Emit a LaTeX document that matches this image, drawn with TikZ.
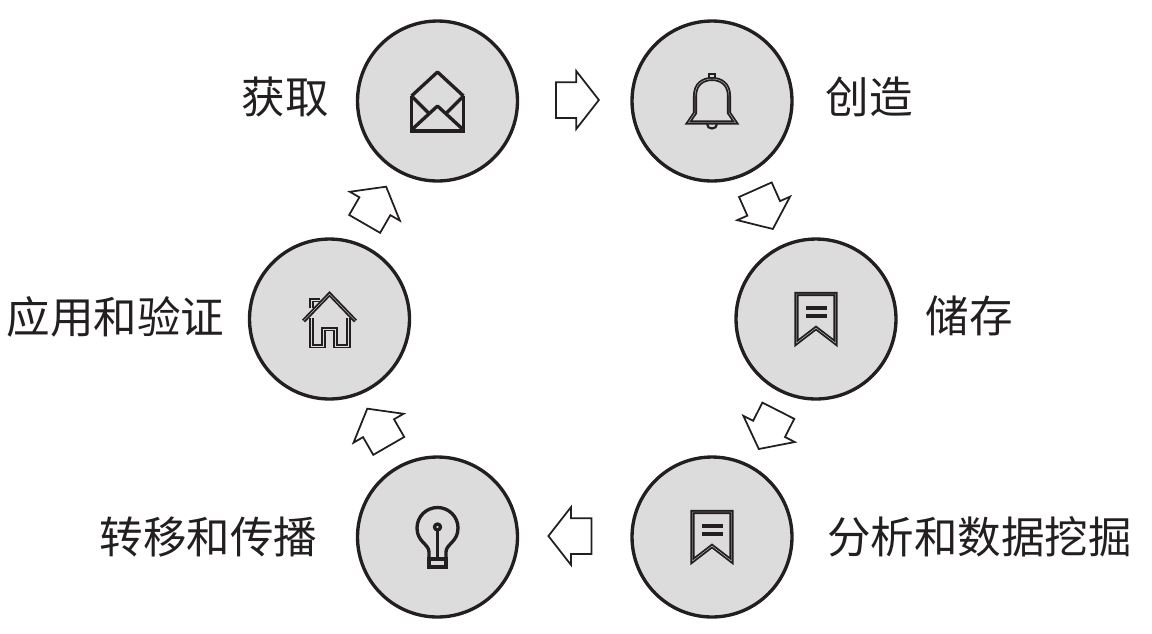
\documentclass[tikz,border=0pt]{standalone}
\usepackage{fontspec}
\setmainfont{Noto Sans CJK SC}
\usetikzlibrary{positioning,shapes.arrows}

\definecolor{cInk}{HTML}{231F20}
\definecolor{cDisc}{HTML}{DCDCDD}

\tikzset{
	stagedisc/.style	= {shape = circle, draw = cInk, fill = cDisc, line width = 1.9pt, minimum size = 3.2cm, inner sep = 0pt},
	stagelabel/.style	= {text = cInk, font = \fontsize{24.8pt}{28pt}\selectfont, inner sep = 0pt},
	blockarrow/.style	= {shape = single arrow, draw = cInk, fill = white, line width = 1pt, inner xsep = 0pt, inner ysep = 0.34cm, minimum height = 0.86cm, minimum width = 1.12cm, single arrow head extend = 0.22cm, single arrow tip angle = 104, anchor = tip},
	solidicon/.style	= {draw = cInk, line width = 1.9pt, line join = round},
	hollowicon/.style	= {draw = cInk, line width = 1.05pt, double = cDisc, double distance = 0.2pt, line join = miter},
	% the icons, around the middle of their disc
	mailicon/.pic		= {
		\draw [solidicon] (-26,-5) -- (0,-29) -- (26,-5);
		\draw [solidicon, line join = miter] (-26,-5) -- (-26,30) -- (26,30) -- (26,-5);
		\draw [solidicon] (-25,28) -- (0,5) -- (25,28);
		\draw [solidicon] (-25,-4) -- (-9,12);
		\draw [solidicon] (25,-4) -- (9,12);
	},
	bellicon/.pic		= {
		\draw [hollowicon] (-23.5,21.5) -- (-17,12) -- (-17,-5) .. controls (-17,-17) and (-9,-22) .. (0,-22) .. controls (9,-22) and (17,-17) .. (17,-5) -- (17,12) -- (23.5,21.5) -- cycle;
		\draw [cInk, line width = 1.2pt] (-3,-23) -- (-3,-27) -- (3,-27) -- (3,-23);
		\draw [cInk, line width = 1.2pt] (-5,23) .. controls (-5,29) and (5,29) .. (5,23);
	},
	bookicon/.pic		= {
		\draw [hollowicon] (-19.5,-25) -- (19.5,-25) -- (19.5,24) -- (0,9) -- (-19.5,24) -- cycle;
		\draw [cInk, line width = 2.1pt] (-10.5,-11) -- (10.5,-11);
		\draw [cInk, line width = 1.9pt] (-10.5,-3) -- (10.5,-3);
	},
	bulbicon/.pic		= {
		\draw [solidicon] (-8.5,22) -- (-8.5,15) .. controls (-8.5,7) and (-20.5,5) .. (-20.5,-9) arc [start angle = 180, end angle = 360, radius = 20.5] .. controls (20.5,5) and (8.5,7) .. (8.5,15) -- (8.5,22);
		\draw [solidicon, line join = miter] (-8.5,22) rectangle (8.5,30);
		\draw [solidicon] (0,-7) -- (0,22);
		\draw [solidicon] (0,-10) circle [radius = 3];
	},
	houseicon/.pic		= {
		\draw [hollowicon] (-26,2) -- (0,-25) -- (26,2);
		\draw [hollowicon] (-18,-1) -- (-18,27) -- (-6,27) -- (-6,10) -- (6,10) -- (6,27) -- (19,27) -- (19,-1);
		\draw [hollowicon] (-18,-11) -- (-18,-19) -- (-10,-19);
	},
}

\begin{document}
\begin{tikzpicture}
[
	x	= 0.02cm,	% one unit is one pixel of the reference
	y	= -0.02cm,	% and the picture is counted from the top
]

{
	\useasboundingbox (0,0) rectangle (1152,633);

	% nodes declaration
	\node (nGet) [stagedisc] at (437.5,101) {};
	\node (nCreate) [stagedisc] at (712,101) {};
	\node (nStore) [stagedisc] at (816,319) {};
	\node (nMine) [stagedisc] at (712,537) {};
	\node (nSpread) [stagedisc] at (437.5,537) {};
	\node (nApply) [stagedisc] at (329.5,319) {};

	\node (lGet) [stagelabel] at (285.5,97) {获取};
	\node (lCreate) [stagelabel] at (869,97) {创造};
	\node (lStore) [stagelabel] at (969.5,316) {储存};
	\node (lMine) [stagelabel] at (979.5,537) {分析和数据挖掘};
	\node (lSpread) [stagelabel] at (208.5,537) {转移和传播};
	\node (lApply) [stagelabel] at (115.5,317) {应用和验证};

	% icons declaration
	\pic at (nGet) {mailicon};
	\pic at (nCreate) {bellicon};
	\pic at (nStore) {bookicon};
	\pic at (nMine) {bookicon};
	\pic at (nSpread) {bulbicon};
	\pic at (nApply) {houseicon};

	% arrows declaration
	\node (aGetCreate) [blockarrow, rotate = 0] at (600,100) {};
	\node (aCreateStore) [blockarrow, rotate = -66] at (773.3,230) {};
	\node (aStoreMine) [blockarrow, rotate = -117] at (758.3,450) {};
	\node (aMineSpread) [blockarrow, rotate = 180] at (547.3,536) {};
	\node (aSpreadApply) [blockarrow, rotate = 120] at (366.7,407.7) {};
	\node (aApplyGet) [blockarrow, rotate = 60] at (386.7,185.7) {};
}

\end{tikzpicture}
\end{document}
